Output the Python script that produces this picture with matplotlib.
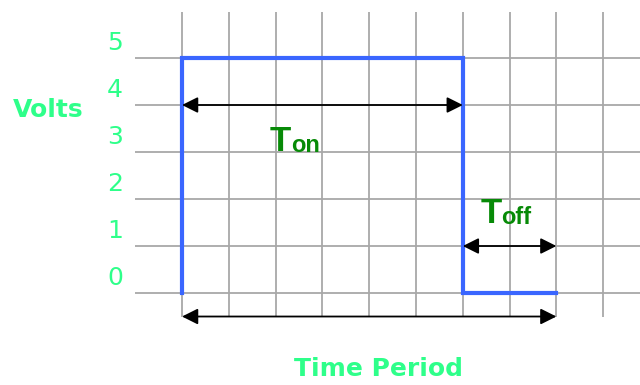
import matplotlib
matplotlib.use('Agg')
import matplotlib.pyplot as plt
import numpy as np

# pwm signal (x in grid columns, y in volts)
signal_x = [0, 0, 6, 6, 8]
signal_y = [0, 5, 5, 0, 0]
volt_ticks = [0, 1, 2, 3, 4, 5]
time_cols = [0, 1, 2, 3, 4, 5, 6, 7, 8, 9]
t_on = (0, 6)
t_off = (6, 8)
period = (0, 8)

label_green = '#2eff8a'
dark_green = '#078a07'
blue = '#3a66ff'

fig = plt.figure(figsize=(6.4, 3.85), dpi=100)
ax = fig.add_axes([0, 0, 1, 1])
ax.set_xlim(-3.889, 9.786)
ax.set_ylim(-1.957, 6.234)
ax.axis('off')

# grid
ax.hlines(volt_ticks, -1, 9.786, color='#a8a8a8', lw=1.3, zorder=1)
ax.vlines(time_cols, -0.5, 5.98, color='#a8a8a8', lw=1.3, zorder=1)

# the signal
ax.plot(signal_x, signal_y, color=blue, lw=3, solid_joinstyle='miter', zorder=3)

# arrows
arrow = dict(arrowstyle='<|-|>', color='black', lw=1.3, mutation_scale=24,
             shrinkA=0, shrinkB=0)
ax.annotate('', xy=(t_on[1], 4), xytext=(t_on[0], 4), arrowprops=arrow, zorder=4)
ax.annotate('', xy=(t_off[1], 1), xytext=(t_off[0], 1), arrowprops=arrow, zorder=4)
ax.annotate('', xy=(period[1], -0.5), xytext=(period[0], -0.5), arrowprops=arrow, zorder=4)

# labels
for v in volt_ticks:
    ax.text(-1.43, v + 0.32, str(v), color=label_green, fontsize=18,
            ha='center', va='center', family='DejaVu Sans')

ax.text(-2.86, 3.9, 'Volts', color=label_green, fontsize=18, fontweight='bold',
        ha='center', va='center')
ax.text(4.2, -1.62, 'Time Period', color=label_green, fontsize=18, fontweight='bold',
        ha='center', va='center')

# T_on / T_off
ax.text(1.88, 3.03, 'T', color=dark_green, fontsize=25, fontweight='bold',
        family='Liberation Sans', ha='left', va='baseline')
ax.text(2.33, 3.0, 'on', color=dark_green, fontsize=17, fontweight='bold',
        family='Liberation Sans', ha='left', va='baseline')
ax.text(6.37, 1.49, 'T', color=dark_green, fontsize=25, fontweight='bold',
        family='Liberation Sans', ha='left', va='baseline')
ax.text(6.82, 1.46, 'off', color=dark_green, fontsize=17, fontweight='bold',
        family='Liberation Sans', ha='left', va='baseline')

fig.savefig('out.png', dpi=100, facecolor='white')
